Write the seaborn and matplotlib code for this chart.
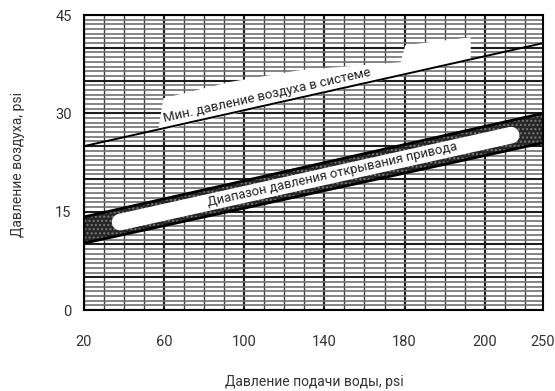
import numpy as np
import seaborn as sns
from matplotlib import pyplot as plt

# water supply pressure tick labels (non-uniform scale on original chart)
x_tick_labels = [20, 60, 100, 140, 180, 200, 250]
x_tick_pos = [0, 1, 2, 3, 4, 5, 5.725]
y_ticks = [0, 15, 30, 45]

# lines (x in tick-position units)
line_x = [0, 5.725]
min_air = [25.0, 40.7]
band_upper = [14.2, 30.0]
band_lower = [10.2, 25.5]

sns.set_style("white")
plt.rcParams["font.family"] = ["Roboto", "DejaVu Sans"]

fig, ax = plt.subplots(figsize=(5.55, 3.91), dpi=100)
fig.subplots_adjust(left=0.1514, right=0.978, bottom=0.207, top=0.9616)
ax.set_xlim(0, 5.725)
ax.set_ylim(0, 45)

# grid paper
for x in np.arange(0, 5.73, 0.25):
    major = abs(x - round(x)) < 1e-6
    ax.axvline(x, color="#1e1e1e" if major else "#3c3c3c", lw=1.6 if major else 1.0, zorder=1)
for i, y in enumerate(np.arange(0, 45.01, 5 / 7)):
    major = i % 7 == 0
    ax.axhline(y, color="#1e1e1e" if major else "#707070", lw=1.5 if major else 1.2, zorder=1)

# white mask behind upper label
mask_x = [0.925, 4.825, 4.825, 4.01, 3.95, 2.7, 1.825, 0.99]
mask_y = [27.3, 38.1, 41.6, 40.4, 37.8, 36.6, 34.8, 32.3]
ax.fill(mask_x, mask_y, color="white", lw=0, zorder=2)

sns.lineplot(x=line_x, y=min_air, color="black", lw=1.4, ax=ax, zorder=4)

# opening pressure band
ax.fill_between(line_x, band_lower, band_upper, facecolor="#262626",
                hatch="....", edgecolor="#7a7a7a", lw=0, zorder=3)
sns.lineplot(x=line_x, y=band_upper, color="black", lw=2.0, ax=ax, zorder=4)
sns.lineplot(x=line_x, y=band_lower, color="black", lw=2.0, ax=ax, zorder=4)

mid = lambda x: (np.interp(x, line_x, band_upper) + np.interp(x, line_x, band_lower)) / 2
bx = [0.45, 5.33]
ax.plot(bx, [mid(bx[0]), mid(bx[1])], color="white", lw=12, solid_capstyle="round", zorder=5)

ax.set_xticks(x_tick_pos)
ax.set_xticklabels(x_tick_labels)
ax.set_yticks(y_ticks)
ax.tick_params(length=0, labelsize=10.5, labelcolor="#333333")
ax.tick_params(axis="x", pad=18)
ax.tick_params(axis="y", pad=9)
for s in ax.spines.values():
    s.set_color("black")
    s.set_linewidth(1.5)
    s.set_zorder(6)

fig.canvas.draw()
def angle(xs, ys):
    p = ax.transData.transform(np.column_stack([xs, ys]))
    return np.degrees(np.arctan2(p[1, 1] - p[0, 1], p[1, 0] - p[0, 0]))

ax.text(2.28, 32.75, "Мин. давление воздуха в системе", rotation=angle(line_x, min_air),
        rotation_mode="anchor", ha="center", va="center", fontsize=9.5,
        color="#222222", zorder=7)
ax.text(3.1, mid(3.1), "Диапазон давления открывания привода", rotation=angle(line_x, band_upper),
        rotation_mode="anchor", ha="center", va="center", fontsize=9.4,
        color="#222222", zorder=7)

fig.text(0.033, 0.58, "Давление воздуха, psi", rotation=90, ha="center", va="center",
         fontsize=10, color="#333333")
fig.text(0.567, 0.022, "Давление подачи воды, psi", ha="center", va="center",
         fontsize=10, color="#333333")

fig.savefig("out.png", dpi=100)
